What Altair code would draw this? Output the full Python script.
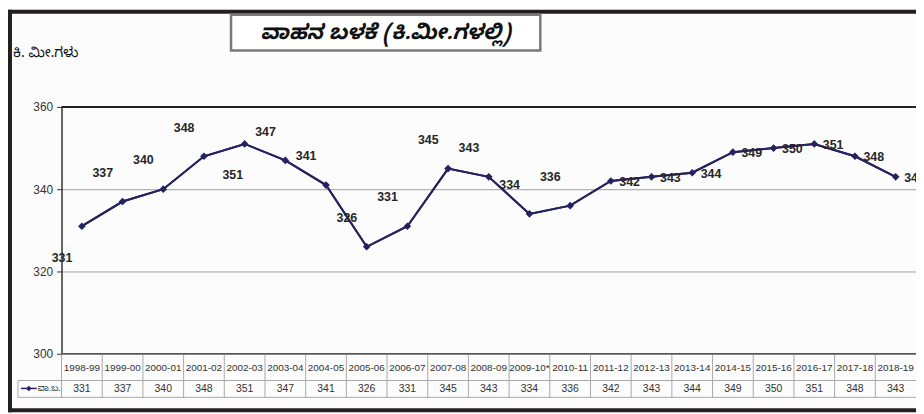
import altair as alt
import pandas as pd

years = ["1998-99", "1999-00", "2000-01", "2001-02", "2002-03", "2003-04", "2004-05",
         "2005-06", "2006-07", "2007-08", "2008-09", "2009-10*", "2010-11", "2011-12",
         "2012-13", "2013-14", "2014-15", "2015-16", "2016-17", "2017-18", "2018-19"]
values = [331, 337, 340, 348, 351, 347, 341, 326, 331, 345, 343, 334, 336, 342,
          343, 344, 349, 350, 351, 348, 343]
# where each data label sits relative to its point
label_side = ["downleft", "upleft", "upleft", "upleft", "down", "upleft", "upleft",
              "upleft", "upleft", "upleft", "upleft", "upleft", "upleft", "right",
              "right", "right", "right", "right", "right", "right", "right"]
y_ticks = [300, 320, 340, 360]

title_text = "ವಾಹನ ಬಳಕೆ (ಕಿ.ಮೀ.ಗಳಲ್ಲಿ)"
y_title = "ಕಿ. ಮೀ.ಗಳು"
series_name = "ವಾ.ಬ."

df = pd.DataFrame({"year": years, "value": values, "side": label_side})

W, H = 862, 249
LINE = "#26215f"
DARK = "#231f20"
KN = "Noto Sans Kannada, Noto Serif Kannada, Lohit Kannada, Tunga, Noto Sans, sans-serif"
NARROW = "Liberation Sans Narrow, Arial Narrow, Liberation Sans, Arial, sans-serif"
ARIAL = "Liberation Sans, Arial, sans-serif"

xenc = alt.X("year:N", sort=years,
             scale=alt.Scale(type="band", domain=years, paddingInner=0, paddingOuter=0),
             axis=None)
yscale = alt.Scale(domain=[300, 360], nice=False, zero=False)
yenc = alt.Y("value:Q", scale=yscale,
             axis=alt.Axis(values=y_ticks, grid=True, gridColor="#a0a0a0", gridWidth=1,
                           domainColor="#333333", domainWidth=1.5, tickColor="#333333",
                           tickSize=5, labelFontSize=12, labelFont=NARROW,
                           labelColor="#333333", labelPadding=4, title=None))

one = alt.Data(values=[{}])
base = alt.Chart(df)

line = base.mark_line(color=LINE, strokeWidth=2).encode(x=xenc, y=yenc)
pts = base.mark_point(shape="diamond", filled=True, size=60, color=LINE, opacity=1).encode(
    x=xenc, y=alt.Y("value:Q", scale=yscale))

offsets = {"upleft": (-20, -29), "downleft": (-20, 32), "down": (-12, 31), "right": (19, 1)}
label_layers = []
for side, (dx, dy) in offsets.items():
    label_layers.append(
        base.transform_filter(alt.datum.side == side)
        .mark_text(dx=dx, dy=dy, fontSize=12.5, font=NARROW, fontWeight="bold", color="#262626")
        .encode(x=xenc, y=alt.Y("value:Q", scale=yscale), text="value:Q"))

# plot frame emphasis (top at 360 and bottom at 300)
top_rule = alt.Chart(one).mark_rule(color="#222222", strokeWidth=2).encode(
    y=alt.datum(360, scale=yscale), x=alt.value(0), x2=alt.value(W + 20))
bot_rule = alt.Chart(one).mark_rule(color="#555555", strokeWidth=1.5).encode(
    y=alt.datum(300, scale=yscale), x=alt.value(0), x2=alt.value(W + 20))

# outer dark frame
frame_left = alt.Chart(one).mark_rule(color=DARK, strokeWidth=4).encode(
    x=alt.value(-52), y=alt.value(-98), y2=alt.value(308))
frame_top = alt.Chart(one).mark_rule(color=DARK, strokeWidth=4).encode(
    x=alt.value(-54), x2=alt.value(W + 20), y=alt.value(-96))
frame_bot = alt.Chart(one).mark_rule(color=DARK, strokeWidth=4).encode(
    x=alt.value(-54), x2=alt.value(W + 20), y=alt.value(306))

# title box
title_box = alt.Chart(one).mark_rect(fill="white", stroke="#7a7a7a", strokeWidth=2.5).encode(
    x=alt.value(171), x2=alt.value(483), y=alt.value(-93), y2=alt.value(-57))
title = alt.Chart(one).mark_text(fontSize=21, fontWeight="bold", fontStyle="italic",
                                 font=KN, color="#111111").encode(
    x=alt.value(327), y=alt.value(-75), text=alt.value(title_text))
ytitle = alt.Chart(one).mark_text(fontSize=14, font=KN, align="left", color="#111111").encode(
    x=alt.value(-49), y=alt.value(-54), text=alt.value(y_title))

# data table below the plot
tgrid = "#a8a8a8"
row1 = alt.Chart(one).mark_rule(color=tgrid, strokeWidth=1).encode(
    x=alt.value(-44), x2=alt.value(W + 20), y=alt.value(276))
row2 = alt.Chart(one).mark_rule(color=tgrid, strokeWidth=1).encode(
    x=alt.value(-44), x2=alt.value(W + 20), y=alt.value(293))
lead = alt.Chart(one).mark_rule(color=tgrid, strokeWidth=1).encode(
    x=alt.value(-44), y=alt.value(276), y2=alt.value(293))
vlines = base.mark_rule(color=tgrid, strokeWidth=1).encode(
    x=alt.X("year:N", sort=years, bandPosition=0,
            scale=alt.Scale(type="band", domain=years, paddingInner=0, paddingOuter=0),
            axis=None),
    y=alt.value(250), y2=alt.value(293))
year_txt = base.mark_text(fontSize=10, font=ARIAL, color="#333333").encode(
    x=xenc, y=alt.value(263), text="year:N")
val_txt = base.mark_text(fontSize=10.5, font=ARIAL, color="#333333").encode(
    x=xenc, y=alt.value(285), text="value:Q")
leg_line = alt.Chart(one).mark_rule(color=LINE, strokeWidth=1.5).encode(
    x=alt.value(-41), x2=alt.value(-25), y=alt.value(284))
leg_pt = alt.Chart(one).mark_point(shape="diamond", filled=True, size=30, color=LINE,
                                   opacity=1).encode(x=alt.value(-33), y=alt.value(284))
leg_txt = alt.Chart(one).mark_text(fontSize=9, font=KN, align="left", color="#333333").encode(
    x=alt.value(-24), y=alt.value(284), text=alt.value(series_name))

chart = alt.layer(
    line, frame_left, frame_top, frame_bot, top_rule, bot_rule,
    title_box, title, ytitle,
    row1, row2, lead, vlines, year_txt, val_txt, leg_line, leg_pt, leg_txt,
    line, pts, *label_layers,
).properties(
    width=W, height=H,
    autosize=alt.AutoSizeParams(type="none"),
    padding={"left": 54, "top": 98, "right": 0, "bottom": 59},
    background="#fcfcfc",
).configure_view(stroke=None)

chart.save("out.html", embed_options={"renderer": "svg", "actions": False})
